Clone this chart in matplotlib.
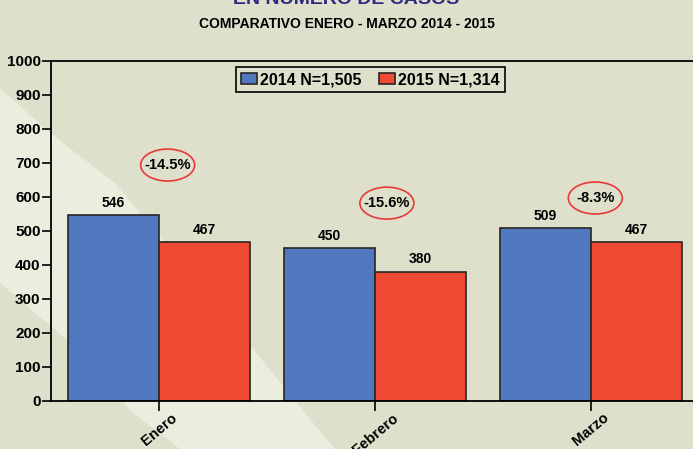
import matplotlib.pyplot as plt
import numpy as np
from matplotlib.patches import Polygon, Ellipse

# datos
meses = ['Enero', 'Febrero', 'Marzo']
casos_2014 = [546, 450, 509]
casos_2015 = [467, 380, 467]
variacion = ['-14.5%', '-15.6%', '-8.3%']
leyenda = ['2014 N=1,505', '2015 N=1,314']

plt.rcParams['font.family'] = ['Liberation Sans', 'DejaVu Sans']
plt.rcParams['font.weight'] = 'bold'

fondo = '#dfe0cc'
azul = '#5078be'
rojo = '#f04a35'

fig = plt.figure(figsize=(6.93, 4.49), dpi=100, facecolor=fondo)

# franja clara diagonal del fondo (pixeles, origen arriba)
franja = [(0, 88), (50, 133), (115, 183), (250, 345), (300, 407), (335, 449),
          (180, 449), (133, 413), (67, 340), (0, 283)]
franja = [(x / 693, 1 - y / 449) for x, y in franja]
fig.patches.append(Polygon(franja, closed=True, transform=fig.transFigure,
                           facecolor='#ebedde', edgecolor='none', zorder=-1))

ax = fig.add_axes([51 / 693, 1 - 401 / 449, 648 / 693, 340 / 449])
ax.patch.set_alpha(0)

x = np.arange(len(meses))
w = 0.42
ax.bar(x - w / 2, casos_2014, w, color=azul, edgecolor='#262626', linewidth=1.2, label=leyenda[0])
ax.bar(x + w / 2, casos_2015, w, color=rojo, edgecolor='#262626', linewidth=1.2, label=leyenda[1])

for i in range(len(meses)):
    ax.text(x[i] - w / 2, casos_2014[i] + 16, str(casos_2014[i]), ha='center', va='bottom', fontsize=10, fontweight='bold')
    ax.text(x[i] + w / 2, casos_2015[i] + 16, str(casos_2015[i]), ha='center', va='bottom', fontsize=10, fontweight='bold')

# variaciones con elipse roja
pos_var = [(0.04, 694), (1.055, 582), (2.02, 597)]
for (px, py), t in zip(pos_var, variacion):
    ax.add_patch(Ellipse((px, py), 0.25, 94, facecolor='none', edgecolor='#e8383a', linewidth=1.2))
    ax.text(px, py, t, ha='center', va='center', fontsize=10.5, fontweight='bold')

ax.set_xlim(-0.5, 2.5)
ax.set_ylim(0, 1000)
ax.set_yticks(np.arange(0, 1001, 100))
ax.set_xticks(x)
ax.set_xticklabels(meses, rotation=40, fontsize=10.5, fontweight='bold')
ax.tick_params(axis='y', length=6.5, width=1.2, labelsize=11, pad=1)
ax.tick_params(axis='x', length=7, width=1.2, pad=0)
for lab in ax.get_yticklabels():
    lab.set_fontweight('bold')
ax.spines['right'].set_visible(False)
for s in ['left', 'top', 'bottom']:
    ax.spines[s].set_linewidth(1.3)

lg = ax.legend(loc='upper center', bbox_to_anchor=(0.493, 0.982), ncol=2, frameon=True,
               fancybox=False, edgecolor='black', facecolor=fondo, framealpha=1,
               prop={'weight': 'bold', 'size': 11.5}, handlelength=1.0, handleheight=0.65,
               handletextpad=0.2, columnspacing=1.1, borderpad=0.32, borderaxespad=0)
lg.get_frame().set_linewidth(1.2)

fig.text(0.5, 1 - 4 / 449, 'EN NUMERO DE CASOS', ha='center', va='baseline',
         fontsize=14, fontweight='bold', color='#2e2a80')
fig.text(0.5, 1 - 24 / 449, 'COMPARATIVO ENERO - MARZO 2014 - 2015', ha='center', va='center',
         fontsize=10, fontweight='bold')

fig.savefig('out.png', dpi=100, facecolor=fondo)
